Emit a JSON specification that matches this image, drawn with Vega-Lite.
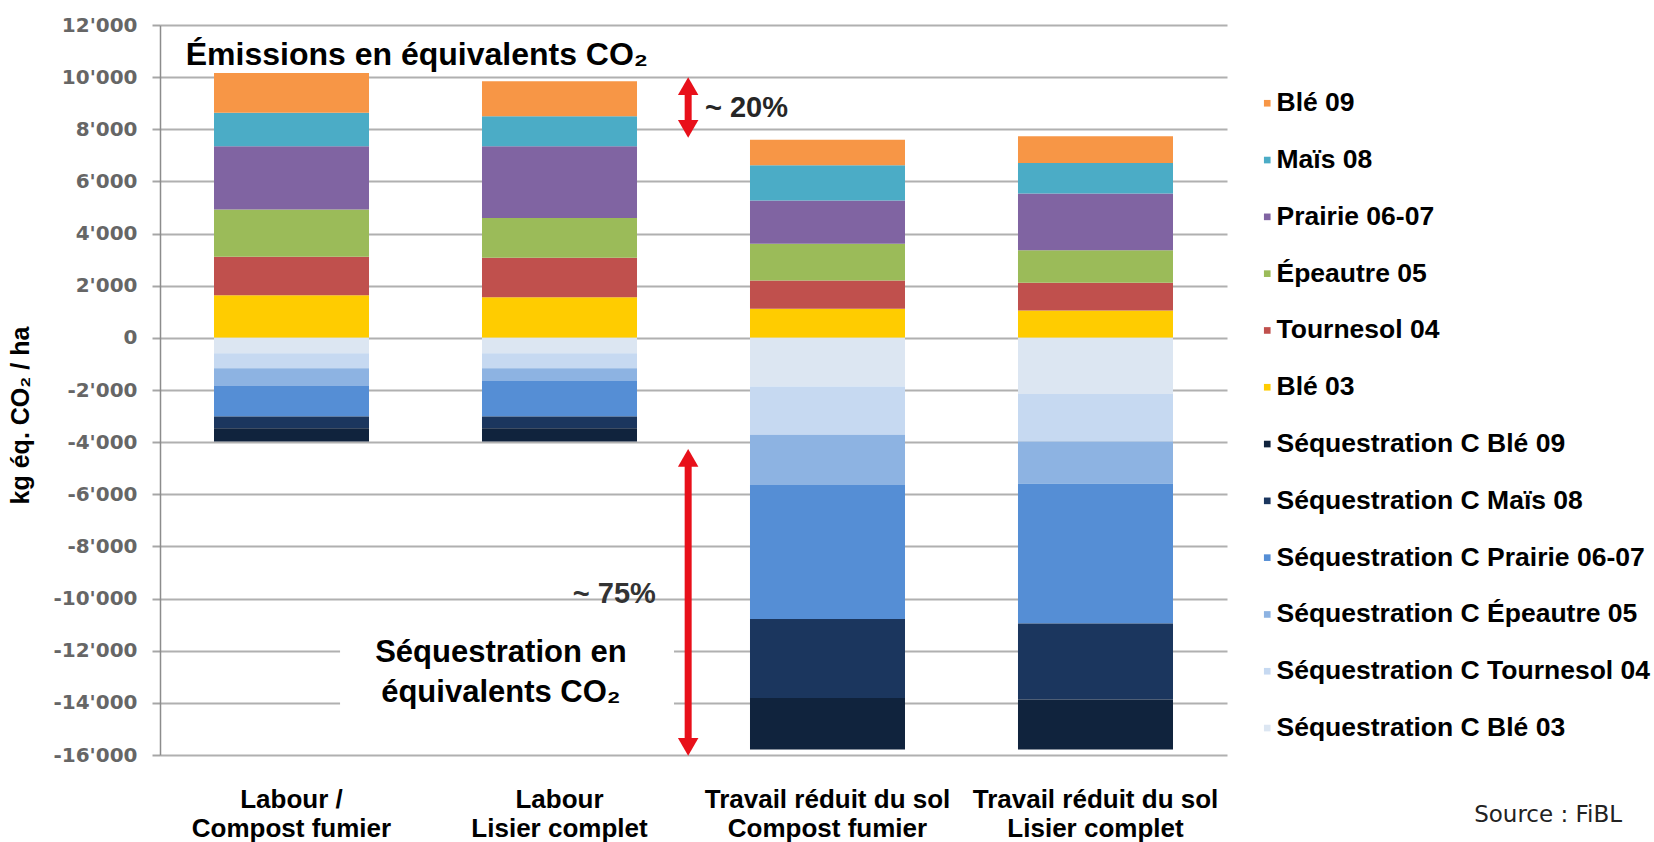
{
  "$schema": "https://vega.github.io/schema/vega-lite/v6.json",
  "width": 1067,
  "height": 730,
  "autosize": {"type": "none"},
  "padding": {"left": 160, "top": 25, "right": 427, "bottom": 87},
  "background": "white",
  "config": {"font": "Liberation Sans", "view": {"stroke": null}},
  "layer": [
    {
      "data": {"values": [
        {"t": "Labour /|Compost fumier", "s": "Blé 03", "v": 1630, "o": 1},
        {"t": "Labour /|Compost fumier", "s": "Tournesol 04", "v": 1480, "o": 2},
        {"t": "Labour /|Compost fumier", "s": "Épeautre 05", "v": 1810, "o": 3},
        {"t": "Labour /|Compost fumier", "s": "Prairie 06-07", "v": 2430, "o": 4},
        {"t": "Labour /|Compost fumier", "s": "Maïs 08", "v": 1280, "o": 5},
        {"t": "Labour /|Compost fumier", "s": "Blé 09", "v": 1530, "o": 6},
        {"t": "Labour /|Compost fumier", "s": "Séquestration C Blé 03", "v": -590, "o": 1},
        {"t": "Labour /|Compost fumier", "s": "Séquestration C Tournesol 04", "v": -580, "o": 2},
        {"t": "Labour /|Compost fumier", "s": "Séquestration C Épeautre 05", "v": -660, "o": 3},
        {"t": "Labour /|Compost fumier", "s": "Séquestration C Prairie 06-07", "v": -1190, "o": 4},
        {"t": "Labour /|Compost fumier", "s": "Séquestration C Maïs 08", "v": -450, "o": 5},
        {"t": "Labour /|Compost fumier", "s": "Séquestration C Blé 09", "v": -510, "o": 6},
        {"t": "Labour|Lisier complet", "s": "Blé 03", "v": 1560, "o": 1},
        {"t": "Labour|Lisier complet", "s": "Tournesol 04", "v": 1510, "o": 2},
        {"t": "Labour|Lisier complet", "s": "Épeautre 05", "v": 1530, "o": 3},
        {"t": "Labour|Lisier complet", "s": "Prairie 06-07", "v": 2750, "o": 4},
        {"t": "Labour|Lisier complet", "s": "Maïs 08", "v": 1150, "o": 5},
        {"t": "Labour|Lisier complet", "s": "Blé 09", "v": 1340, "o": 6},
        {"t": "Labour|Lisier complet", "s": "Séquestration C Blé 03", "v": -590, "o": 1},
        {"t": "Labour|Lisier complet", "s": "Séquestration C Tournesol 04", "v": -580, "o": 2},
        {"t": "Labour|Lisier complet", "s": "Séquestration C Épeautre 05", "v": -480, "o": 3},
        {"t": "Labour|Lisier complet", "s": "Séquestration C Prairie 06-07", "v": -1370, "o": 4},
        {"t": "Labour|Lisier complet", "s": "Séquestration C Maïs 08", "v": -450, "o": 5},
        {"t": "Labour|Lisier complet", "s": "Séquestration C Blé 09", "v": -510, "o": 6},
        {"t": "Travail réduit du sol|Compost fumier", "s": "Blé 03", "v": 1120, "o": 1},
        {"t": "Travail réduit du sol|Compost fumier", "s": "Tournesol 04", "v": 1080, "o": 2},
        {"t": "Travail réduit du sol|Compost fumier", "s": "Épeautre 05", "v": 1410, "o": 3},
        {"t": "Travail réduit du sol|Compost fumier", "s": "Prairie 06-07", "v": 1660, "o": 4},
        {"t": "Travail réduit du sol|Compost fumier", "s": "Maïs 08", "v": 1350, "o": 5},
        {"t": "Travail réduit du sol|Compost fumier", "s": "Blé 09", "v": 980, "o": 6},
        {"t": "Travail réduit du sol|Compost fumier", "s": "Séquestration C Blé 03", "v": -1870, "o": 1},
        {"t": "Travail réduit du sol|Compost fumier", "s": "Séquestration C Tournesol 04", "v": -1850, "o": 2},
        {"t": "Travail réduit du sol|Compost fumier", "s": "Séquestration C Épeautre 05", "v": -1920, "o": 3},
        {"t": "Travail réduit du sol|Compost fumier", "s": "Séquestration C Prairie 06-07", "v": -5140, "o": 4},
        {"t": "Travail réduit du sol|Compost fumier", "s": "Séquestration C Maïs 08", "v": -3030, "o": 5},
        {"t": "Travail réduit du sol|Compost fumier", "s": "Séquestration C Blé 09", "v": -1980, "o": 6},
        {"t": "Travail réduit du sol|Lisier complet", "s": "Blé 03", "v": 1050, "o": 1},
        {"t": "Travail réduit du sol|Lisier complet", "s": "Tournesol 04", "v": 1060, "o": 2},
        {"t": "Travail réduit du sol|Lisier complet", "s": "Épeautre 05", "v": 1250, "o": 3},
        {"t": "Travail réduit du sol|Lisier complet", "s": "Prairie 06-07", "v": 2180, "o": 4},
        {"t": "Travail réduit du sol|Lisier complet", "s": "Maïs 08", "v": 1170, "o": 5},
        {"t": "Travail réduit du sol|Lisier complet", "s": "Blé 09", "v": 1020, "o": 6},
        {"t": "Travail réduit du sol|Lisier complet", "s": "Séquestration C Blé 03", "v": -2150, "o": 1},
        {"t": "Travail réduit du sol|Lisier complet", "s": "Séquestration C Tournesol 04", "v": -1830, "o": 2},
        {"t": "Travail réduit du sol|Lisier complet", "s": "Séquestration C Épeautre 05", "v": -1620, "o": 3},
        {"t": "Travail réduit du sol|Lisier complet", "s": "Séquestration C Prairie 06-07", "v": -5360, "o": 4},
        {"t": "Travail réduit du sol|Lisier complet", "s": "Séquestration C Maïs 08", "v": -2910, "o": 5},
        {"t": "Travail réduit du sol|Lisier complet", "s": "Séquestration C Blé 09", "v": -1920, "o": 6}
      ]},
      "mark": {"type": "bar"},
      "encoding": {
        "x": {
          "field": "t", "type": "nominal", "sort": null, "title": null,
          "scale": {"paddingInner": 0.4216, "paddingOuter": 0.2015, "align": 0.5},
          "axis": {
            "labelExpr": "split(datum.label, '|')",
            "labelFont": "Liberation Sans", "labelFontWeight": "bold", "labelFontSize": 26,
            "labelColor": "#000000", "labelLineHeight": 29, "labelBaseline": "alphabetic", "labelLimit": 400,
            "labelPadding": 52, "ticks": false, "tickSize": 0, "domain": false, "labelAngle": 0, "grid": false
          }
        },
        "y": {
          "field": "v", "type": "quantitative", "stack": "zero", "title": "kg éq. CO₂ / ha",
          "scale": {"domain": [-16000, 12000], "nice": false, "zero": false},
          "axis": {
            "tickCount": 14,
            "labelExpr": "replace(replace(format(datum.value, ','), ',', \"'\"), '−', '-')",
            "labelFont": "DejaVu Sans", "labelFontSize": 20, "labelFontWeight": "bold", "labelColor": "#666666", "labelPadding": 15,
            "tickSize": 8, "tickColor": "#a6a6a6", "tickWidth": 2,
            "domainColor": "#8c8c8c", "domainWidth": 1.5,
            "grid": true, "gridColor": "#b0b0b0", "gridWidth": 2,
            "titleFont": "Liberation Sans", "titleFontWeight": "bold", "titleFontSize": 25, "titleColor": "#000000",
            "titleAngle": -90, "titleX": -140, "titleY": 390, "titleAlign": "center", "titleBaseline": "middle"
          }
        },
        "color": {
          "field": "s", "type": "nominal",
          "scale": {
            "domain": ["Blé 09", "Maïs 08", "Prairie 06-07", "Épeautre 05", "Tournesol 04", "Blé 03",
              "Séquestration C Blé 09", "Séquestration C Maïs 08", "Séquestration C Prairie 06-07",
              "Séquestration C Épeautre 05", "Séquestration C Tournesol 04", "Séquestration C Blé 03"],
            "range": ["#F79646", "#4BACC6", "#8064A2", "#9BBB59", "#C0504D", "#FFCC00",
              "#10233D", "#1B365E", "#558ED5", "#8DB3E2", "#C6D9F1", "#DCE6F2"]
          },
          "legend": {
            "title": null, "orient": "none", "legendX": 1094, "legendY": 65,
            "symbolType": "square", "symbolSize": 44, "symbolStrokeWidth": 0,
            "labelFont": "Liberation Sans", "labelFontSize": 26.5, "labelFontWeight": "bold", "labelColor": "#000000",
            "labelOffset": -4, "rowPadding": 29.8, "padding": 0, "labelLimit": 500
          }
        },
        "order": {"field": "o", "type": "quantitative"}
      }
    },
    {
      "data": {"values": [{"x": 0.675, "x2": 1.927, "y": -11320, "y2": -14270}]},
      "mark": {"type": "rect", "color": "white"},
      "encoding": {
        "x": {"field": "x", "type": "quantitative", "scale": {"domain": [0, 4]}, "axis": null},
        "x2": {"field": "x2"},
        "y": {"field": "y", "type": "quantitative", "title": "kg éq. CO₂ / ha", "scale": {"domain": [-16000, 12000], "nice": false, "zero": false}},
        "y2": {"field": "y2"}
      }
    },
    {
      "data": {"values": [{"x": 1.98, "y": 9660, "y2": 8015}, {"x": 1.98, "y": -4605, "y2": -15690}]},
      "mark": {"type": "rule", "color": "#E8101A", "strokeWidth": 7},
      "encoding": {
        "x": {"field": "x", "type": "quantitative", "scale": {"domain": [0, 4]}, "axis": null},
        "y": {"field": "y", "type": "quantitative", "title": "kg éq. CO₂ / ha", "scale": {"domain": [-16000, 12000], "nice": false, "zero": false}},
        "y2": {"field": "y2"}
      }
    },
    {
      "data": {"values": [
        {"x": 1.98, "y": 9660, "d": "up"}, {"x": 1.98, "y": 8015, "d": "down"},
        {"x": 1.98, "y": -4605, "d": "up"}, {"x": 1.98, "y": -15690, "d": "down"}
      ]},
      "mark": {"type": "point", "filled": true, "color": "#E8101A", "size": 420, "opacity": 1},
      "encoding": {
        "x": {"field": "x", "type": "quantitative", "scale": {"domain": [0, 4]}, "axis": null},
        "y": {"field": "y", "type": "quantitative", "title": "kg éq. CO₂ / ha", "scale": {"domain": [-16000, 12000], "nice": false, "zero": false}},
        "shape": {"field": "d", "type": "nominal", "scale": {"domain": ["up", "down"], "range": ["triangle-up", "triangle-down"]}, "legend": null}
      }
    },
    {
      "data": {"values": [{"x": 0.963, "y": 10470, "label": "Émissions en équivalents CO₂"}]},
      "mark": {"type": "text", "font": "Liberation Sans", "fontWeight": "bold", "fontSize": 32, "align": "center", "baseline": "alphabetic", "color": "#000000"},
      "encoding": {
        "x": {"field": "x", "type": "quantitative", "scale": {"domain": [0, 4]}, "axis": null},
        "y": {"field": "y", "type": "quantitative", "title": "kg éq. CO₂ / ha", "scale": {"domain": [-16000, 12000], "nice": false, "zero": false}},
        "text": {"field": "label"}
      }
    },
    {
      "data": {"values": [{"x": 2.043, "y": 8800, "label": "~ 20%"}]},
      "mark": {"type": "text", "font": "Liberation Sans", "fontWeight": "bold", "fontSize": 29, "align": "left", "baseline": "middle", "color": "#262626"},
      "encoding": {
        "x": {"field": "x", "type": "quantitative", "scale": {"domain": [0, 4]}, "axis": null},
        "y": {"field": "y", "type": "quantitative", "title": "kg éq. CO₂ / ha", "scale": {"domain": [-16000, 12000], "nice": false, "zero": false}},
        "text": {"field": "label"}
      }
    },
    {
      "data": {"values": [{"x": 1.703, "y": -9815, "label": "~ 75%"}]},
      "mark": {"type": "text", "font": "Liberation Sans", "fontWeight": "bold", "fontSize": 29, "align": "center", "baseline": "middle", "color": "#333333"},
      "encoding": {
        "x": {"field": "x", "type": "quantitative", "scale": {"domain": [0, 4]}, "axis": null},
        "y": {"field": "y", "type": "quantitative", "title": "kg éq. CO₂ / ha", "scale": {"domain": [-16000, 12000], "nice": false, "zero": false}},
        "text": {"field": "label"}
      }
    },
    {
      "data": {"values": [{"x": 1.278, "y": -12450, "label": "Séquestration en|équivalents CO₂"}]},
      "mark": {"type": "text", "font": "Liberation Sans", "fontWeight": "bold", "fontSize": 31, "align": "center", "baseline": "alphabetic", "color": "#000000", "lineBreak": "|", "lineHeight": 40},
      "encoding": {
        "x": {"field": "x", "type": "quantitative", "scale": {"domain": [0, 4]}, "axis": null},
        "y": {"field": "y", "type": "quantitative", "title": "kg éq. CO₂ / ha", "scale": {"domain": [-16000, 12000], "nice": false, "zero": false}},
        "text": {"field": "label"}
      }
    },
    {
      "data": {"values": [{"x": 5.481, "y": -18570, "label": "Source : FiBL"}]},
      "mark": {"type": "text", "font": "DejaVu Sans", "fontSize": 23, "align": "right", "baseline": "alphabetic", "color": "#222222"},
      "encoding": {
        "x": {"field": "x", "type": "quantitative", "scale": {"domain": [0, 4]}, "axis": null},
        "y": {"field": "y", "type": "quantitative", "title": "kg éq. CO₂ / ha", "scale": {"domain": [-16000, 12000], "nice": false, "zero": false}},
        "text": {"field": "label"}
      }
    }
  ],
  "resolve": {"scale": {"x": "independent", "shape": "independent"}}
}
